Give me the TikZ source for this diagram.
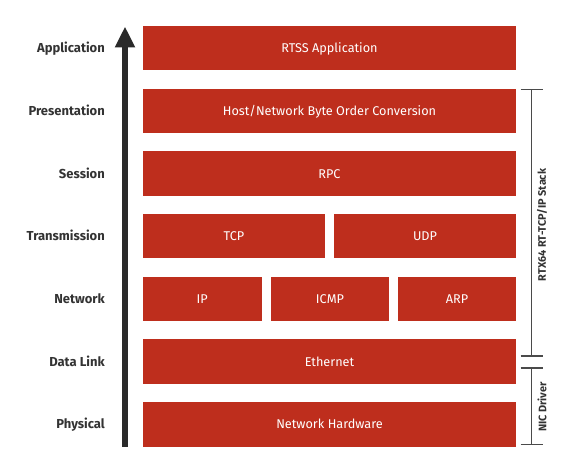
\documentclass[tikz,border=0pt]{standalone}
\usepackage{fontspec}
\setmainfont{Fira Sans}
\usetikzlibrary{arrows.meta}
\definecolor{boxred}{HTML}{BE2E1D}
\definecolor{labelgray}{HTML}{333333}
\definecolor{arrowdark}{HTML}{2A2A2A}
\definecolor{bracketgray}{HTML}{4A4A4A}
\tikzset{
  layerbox/.style={rectangle, fill=boxred, draw=none, inner sep=0pt,
    minimum height=44.5pt, text height=9pt, text depth=0pt,
    text=white, font=\fontsize{12.7}{14}\selectfont},
  layerlabel/.style={anchor=east, inner sep=0pt, text height=9.2pt, text depth=0pt,
    text=labelgray, font=\bfseries\fontsize{13}{15}\selectfont},
  bracketline/.style={draw=bracketgray, line width=1.4pt},
  bracketlabel/.style={rotate=90, inner sep=0pt, text=labelgray,
    font=\bfseries\fontsize{10.9}{12}\selectfont},
  uparrow/.style={draw=arrowdark, line width=5.6pt,
    -{Triangle[width=19pt,length=21pt]}}
}
\begin{document}
\begin{tikzpicture}[x=1pt,y=-1pt]
\useasboundingbox (0,0) rectangle (576,473);
% boxes
\node[layerbox, minimum width=373pt] (app)  at (329.5,48.25)  {RTSS Application};
\node[layerbox, minimum width=373pt] (pres) at (329.5,110.9)  {Host/Network Byte Order Conversion};
\node[layerbox, minimum width=373pt] (sess) at (329.5,173.6)  {RPC};
\node[layerbox, minimum width=182pt] (tcp)  at (234,236.25)   {TCP};
\node[layerbox, minimum width=182pt] (udp)  at (425,236.25)   {UDP};
\node[layerbox, minimum width=118.5pt] (ip)   at (202.25,298.9) {IP};
\node[layerbox, minimum width=118pt] (icmp) at (330,298.9)    {ICMP};
\node[layerbox, minimum width=118pt] (arp)  at (457,298.9)    {ARP};
\node[layerbox, minimum width=373pt] (eth)  at (329.5,361.6)  {Ethernet};
\node[layerbox, minimum width=373pt] (hw)   at (329.5,424.25) {Network Hardware};
% labels
\node[layerlabel] (lapp)  at (105,48.25)  {Application};
\node[layerlabel] (lpres) at (105,110.9)  {Presentation};
\node[layerlabel] (lsess) at (105,173.6)  {Session};
\node[layerlabel] (ltra)  at (105,236.25) {Transmission};
\node[layerlabel] (lnet)  at (105,298.9)  {Network};
\node[layerlabel] (ldl)   at (105,361.6)  {Data Link};
\node[layerlabel] (lphy)  at (105,424.25) {Physical};
% arrow
\coordinate (abot) at (125,446.7);
\coordinate (atop) at (125,26.5);
\draw[uparrow] (abot) -- (atop);
% brackets
\coordinate (s1) at (531.5,89.7);
\coordinate (s2) at (531.5,356);
\coordinate (n1) at (531.5,368);
\coordinate (n2) at (531.5,444.7);
\draw[bracketline] (s1) -- (s2);
\draw[bracketline] ([xshift=-11pt]s1) -- ([xshift=11pt]s1);
\draw[bracketline] ([xshift=-11pt]s2) -- ([xshift=11pt]s2);
\draw[bracketline] (n1) -- (n2);
\draw[bracketline] ([xshift=-11pt]n1) -- ([xshift=11pt]n1);
\draw[bracketline] ([xshift=-11pt]n2) -- ([xshift=11pt]n2);
\node[bracketlabel] (stacklbl) at (542,225) {RTX64 RT-TCP/IP Stack};
\node[bracketlabel] (niclbl) at (542,407) {NIC Driver};
\end{tikzpicture}
\end{document}
